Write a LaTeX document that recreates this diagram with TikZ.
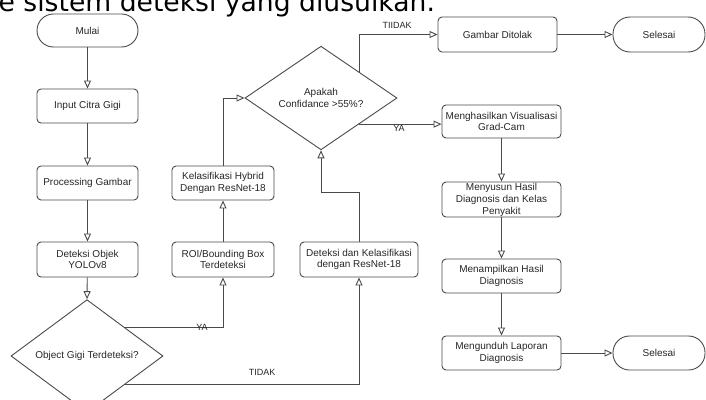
\documentclass[tikz,border=0pt]{standalone}
\usepackage{fontspec}
\setmainfont{Liberation Sans}
\newfontfamily\titlefont{DejaVu Sans}
\usetikzlibrary{shapes.geometric,arrows.meta,calc}
\definecolor{ln}{HTML}{4A4A4A}
\definecolor{tx}{HTML}{262626}
\tikzset{
  base/.style={draw=ln, line width=0.9pt, text=tx, font=\fontsize{10}{11.5}\selectfont, align=center, inner sep=1pt},
  box/.style={base, rectangle, rounded corners=4pt},
  term/.style={base, rectangle, rounded corners=16.5pt},
  dia/.style={base, diamond, minimum width=152pt, minimum height=92pt, inner sep=0pt},
  conn/.style={draw=ln, line width=0.9pt, -{Triangle[open, length=8pt, width=7pt]}},
  lbl/.style={text=tx, font=\fontsize{9}{10}\selectfont, inner sep=0pt}
}
\begin{document}
\begin{tikzpicture}[x=1pt, y=-1pt]
\useasboundingbox (0,0) rectangle (706,399);
\clip (0,0) rectangle (706,399);
% title fragment (cut off at the top edge, as in the reference)
\node[anchor=base west, inner sep=0pt, font=\titlefont\fontsize{26.6}{30}\selectfont, text=black] (title) at (-1.5,11.5) {e sistem deteksi yang diusulkan.};
% left column
\node[term, minimum width=101pt, minimum height=33pt] (mulai) at (87.5,30.5) {Mulai};
\node[box, minimum width=101pt, minimum height=34pt] (input) at (87.5,106) {Input Citra Gigi};
\node[box, minimum width=101pt, minimum height=34pt] (proc) at (87.5,183) {Processing Gambar};
\node[box, minimum width=101pt, minimum height=35pt] (det) at (87.5,259.5) {Deteksi Objek\\YOLOv8};
\node[dia] (obj) at (87,356) {Object Gigi Terdeteksi?};
% middle
\node[box, minimum width=102pt, minimum height=35pt] (roi) at (223,259.5) {ROI/Bounding Box\\Terdeteksi};
\node[box, minimum width=102pt, minimum height=34pt] (kel) at (223,183) {Kelasifikasi Hybrid\\Dengan ResNet-18};
\node[dia] (conf) at (321,98) {Apakah\\Confidance >55\%?};
\node[box, minimum width=118pt, minimum height=35pt] (dk) at (359,259.5) {Deteksi dan Kelasifikasi\\dengan ResNet-18};
% right column
\node[box, minimum width=119pt, minimum height=35pt] (ditolak) at (497.5,34.5) {Gambar Ditolak};
\node[term, minimum width=92pt, minimum height=35pt, rounded corners=17pt] (sel1) at (659,34.5) {Selesai};
\node[box, minimum width=119pt, minimum height=33pt, inner sep=0pt] (viz) at (501.5,121.5) {Menghasilkan Visualisasi\\Grad-Cam};
\node[box, minimum width=119pt, minimum height=35pt, inner ysep=0pt, font=\fontsize{10}{12}\selectfont] (menyusun) at (501.5,199.5) {Menyusun Hasil\\Diagnosis dan Kelas\\Penyakit};
\node[box, minimum width=119pt, minimum height=34pt] (tampil) at (501.5,276) {Menampilkan Hasil\\Diagnosis};
\node[box, minimum width=119pt, minimum height=34pt] (unduh) at (501.5,353) {Mengunduh Laporan\\Diagnosis};
\node[term, minimum width=92pt, minimum height=34pt] (sel2) at (659,353) {Selesai};
% connectors
\draw[conn] (mulai) -- (input);
\draw[conn] (input) -- (proc);
\draw[conn] (proc) -- (det);
\draw[conn] (det) -- (obj.north);
\draw[conn] (obj.north east) -| (roi.south);
\draw[conn] (obj.south east) -| (dk.south);
\draw[conn] (roi) -- (kel);
\draw[conn] (kel.north) |- (conf.west);
\coordinate (bend) at ($(dk.north)+(0,-49)$);
\draw[conn] (dk.north) -- (bend) -| (conf.south);
\draw[conn] (conf.north east) |- (ditolak.west);
\draw[conn] (conf.south east) -- (conf.south east -| viz.west);
\draw[conn] (ditolak) -- (sel1);
\draw[conn] (viz) -- (menyusun);
\draw[conn] (menyusun) -- (tampil);
\draw[conn] (tampil) -- (unduh);
\draw[conn] (unduh) -- (sel2);
% labels
\node[lbl] (lya1) at (202,327) {YA};
\node[lbl] (ltidak) at (262,372) {TIDAK};
\node[lbl] (ltiidak) at (397,25) {TIIDAK};
\node[lbl] (lya2) at (399,128.5) {YA};
\end{tikzpicture}
\end{document}
